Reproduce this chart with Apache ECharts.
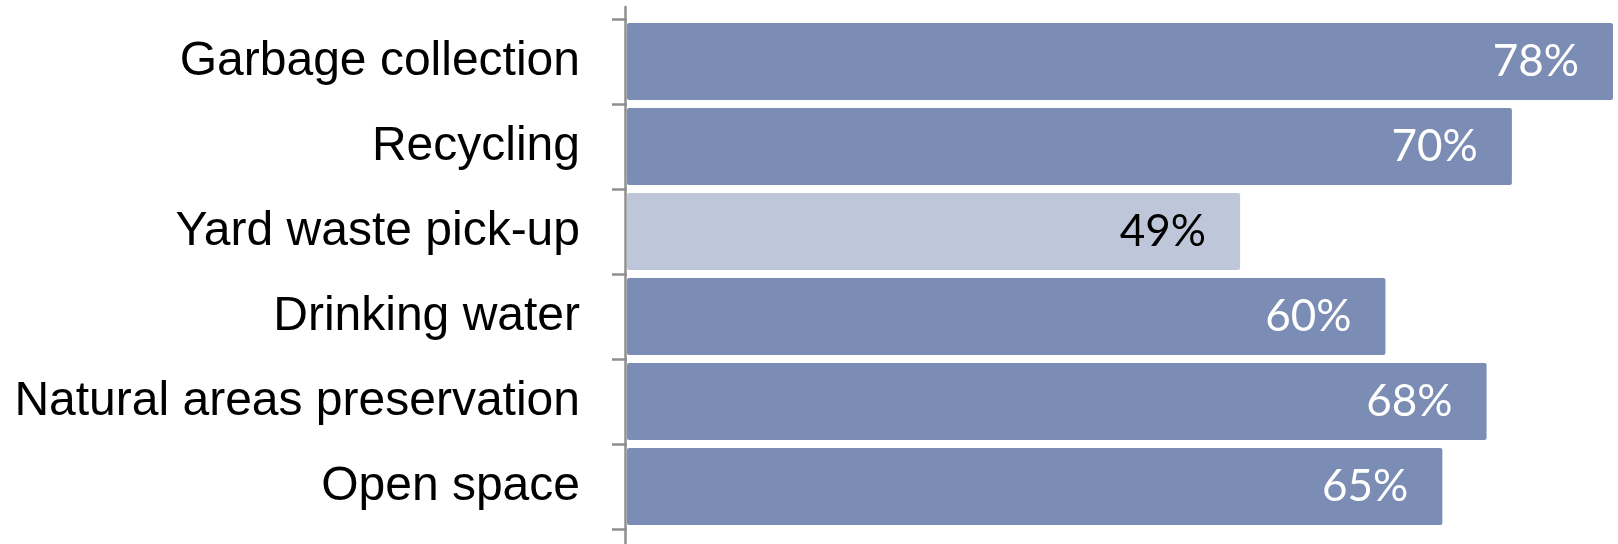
<!DOCTYPE html>
<html><head><meta charset="utf-8">
<script src="https://cdn.jsdelivr.net/npm/echarts@6/dist/echarts.min.js"></script>
<style>html,body{margin:0;padding:0;background:#fff}#c{width:1618px;height:544px}</style>
</head><body><div id="c"></div>
<script>
const categories = ["Garbage collection","Recycling","Yard waste pick-up","Drinking water","Natural areas preservation","Open space"];
const values = [78,70,48.5,60,68,64.5];
const valueLabels = ["78%","70%","49%","60%","68%","65%"];
const highlight = [false,false,true,false,false,false];
const darkColor = "#7B8DB4", lightColor = "#BEC7DA";

const chart = echarts.init(document.getElementById('c'));
chart.setOption({
  animation:false,
  grid:[
    {left:627,right:5,top:19,bottom:15},
    {left:625,right:5,top:7,bottom:0}
  ],
  xAxis:[
    {type:'value',min:0,max:78,show:false,gridIndex:0},
    {type:'value',min:0,max:1,show:false,gridIndex:1}
  ],
  yAxis:[
    {type:'category',data:categories,inverse:true,gridIndex:0,offset:2,
     axisLine:{show:false},
     axisTick:{show:true,length:15,lineStyle:{color:'#8f8f8f',width:2.5}},
     axisLabel:{margin:45,color:'#000',fontFamily:'Liberation Sans, Arial, sans-serif',fontSize:48}},
    {type:'value',gridIndex:1,min:0,max:1,
     axisLine:{show:true,lineStyle:{color:'#8f8f8f',width:2.5}},
     axisTick:{show:false},axisLabel:{show:false},splitLine:{show:false}}
  ],
  series:[{
    type:'bar',xAxisIndex:0,yAxisIndex:0,barWidth:77,
    data:values.map((v,i)=>({value:v,
      itemStyle:{color:highlight[i]?lightColor:darkColor,borderRadius:2},
      label:{color:highlight[i]?'#000':'#fff'}})),
    label:{show:true,position:'insideRight',distance:34,fontFamily:'Lato, Open Sans, sans-serif',fontSize:44,
      formatter:p=>valueLabels[p.dataIndex]}
  }]
});
</script></body></html>
